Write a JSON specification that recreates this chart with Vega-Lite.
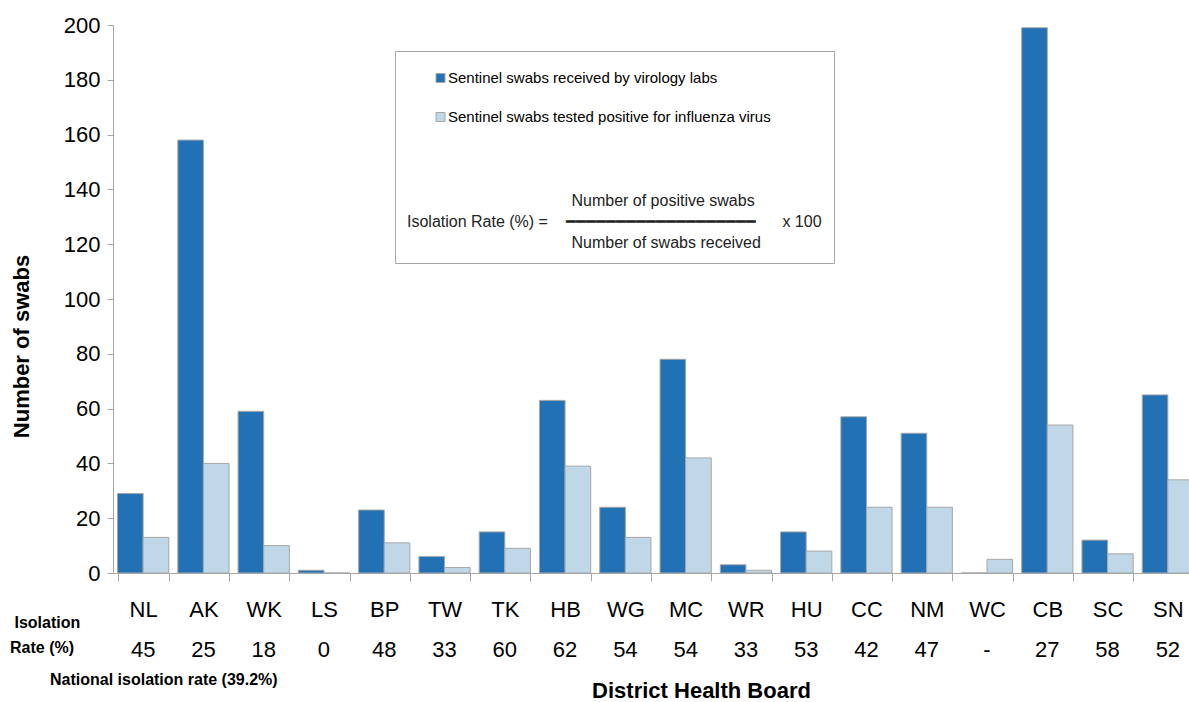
{
  "$schema": "https://vega.github.io/schema/vega-lite/v6.json",
  "width": 1076,
  "height": 548,
  "autosize": "none",
  "padding": {"left": 113, "top": 25, "right": 0, "bottom": 129},
  "background": "white",
  "config": {"view": {"stroke": null}, "font": "Liberation Sans"},
  "title": {
    "text": ["\u200b\u00a0Isolation", "Rate (%)"],
    "subtitle": "\u200b\u00a0\u00a0\u00a0\u00a0\u00a0\u00a0\u00a0\u00a0\u00a0National isolation rate (39.2%)",
    "orient": "bottom",
    "anchor": "start",
    "align": "left",
    "frame": "bounds",
    "fontSize": 16,
    "fontWeight": "bold",
    "color": "black",
    "lineHeight": 25,
    "subtitleFontSize": 16,
    "subtitleFontWeight": "bold",
    "subtitleColor": "black",
    "subtitlePadding": 16,
    "offset": -86
  },
  "datasets": {
    "swabs": [
      {"dhb": "NL", "series": "Sentinel swabs received by virology labs", "swabs": 29},
      {"dhb": "NL", "series": "Sentinel swabs tested positive for influenza virus", "swabs": 13},
      {"dhb": "AK", "series": "Sentinel swabs received by virology labs", "swabs": 158},
      {"dhb": "AK", "series": "Sentinel swabs tested positive for influenza virus", "swabs": 40},
      {"dhb": "WK", "series": "Sentinel swabs received by virology labs", "swabs": 59},
      {"dhb": "WK", "series": "Sentinel swabs tested positive for influenza virus", "swabs": 10},
      {"dhb": "LS", "series": "Sentinel swabs received by virology labs", "swabs": 1},
      {"dhb": "LS", "series": "Sentinel swabs tested positive for influenza virus", "swabs": 0},
      {"dhb": "BP", "series": "Sentinel swabs received by virology labs", "swabs": 23},
      {"dhb": "BP", "series": "Sentinel swabs tested positive for influenza virus", "swabs": 11},
      {"dhb": "TW", "series": "Sentinel swabs received by virology labs", "swabs": 6},
      {"dhb": "TW", "series": "Sentinel swabs tested positive for influenza virus", "swabs": 2},
      {"dhb": "TK", "series": "Sentinel swabs received by virology labs", "swabs": 15},
      {"dhb": "TK", "series": "Sentinel swabs tested positive for influenza virus", "swabs": 9},
      {"dhb": "HB", "series": "Sentinel swabs received by virology labs", "swabs": 63},
      {"dhb": "HB", "series": "Sentinel swabs tested positive for influenza virus", "swabs": 39},
      {"dhb": "WG", "series": "Sentinel swabs received by virology labs", "swabs": 24},
      {"dhb": "WG", "series": "Sentinel swabs tested positive for influenza virus", "swabs": 13},
      {"dhb": "MC", "series": "Sentinel swabs received by virology labs", "swabs": 78},
      {"dhb": "MC", "series": "Sentinel swabs tested positive for influenza virus", "swabs": 42},
      {"dhb": "WR", "series": "Sentinel swabs received by virology labs", "swabs": 3},
      {"dhb": "WR", "series": "Sentinel swabs tested positive for influenza virus", "swabs": 1},
      {"dhb": "HU", "series": "Sentinel swabs received by virology labs", "swabs": 15},
      {"dhb": "HU", "series": "Sentinel swabs tested positive for influenza virus", "swabs": 8},
      {"dhb": "CC", "series": "Sentinel swabs received by virology labs", "swabs": 57},
      {"dhb": "CC", "series": "Sentinel swabs tested positive for influenza virus", "swabs": 24},
      {"dhb": "NM", "series": "Sentinel swabs received by virology labs", "swabs": 51},
      {"dhb": "NM", "series": "Sentinel swabs tested positive for influenza virus", "swabs": 24},
      {"dhb": "WC", "series": "Sentinel swabs received by virology labs", "swabs": 0},
      {"dhb": "WC", "series": "Sentinel swabs tested positive for influenza virus", "swabs": 5},
      {"dhb": "CB", "series": "Sentinel swabs received by virology labs", "swabs": 199},
      {"dhb": "CB", "series": "Sentinel swabs tested positive for influenza virus", "swabs": 54},
      {"dhb": "SC", "series": "Sentinel swabs received by virology labs", "swabs": 12},
      {"dhb": "SC", "series": "Sentinel swabs tested positive for influenza virus", "swabs": 7},
      {"dhb": "SN", "series": "Sentinel swabs received by virology labs", "swabs": 65},
      {"dhb": "SN", "series": "Sentinel swabs tested positive for influenza virus", "swabs": 34}
    ],
    "rates": [
      {"dhb": "NL", "rate": "45"},
      {"dhb": "AK", "rate": "25"},
      {"dhb": "WK", "rate": "18"},
      {"dhb": "LS", "rate": "0"},
      {"dhb": "BP", "rate": "48"},
      {"dhb": "TW", "rate": "33"},
      {"dhb": "TK", "rate": "60"},
      {"dhb": "HB", "rate": "62"},
      {"dhb": "WG", "rate": "54"},
      {"dhb": "MC", "rate": "54"},
      {"dhb": "WR", "rate": "33"},
      {"dhb": "HU", "rate": "53"},
      {"dhb": "CC", "rate": "42"},
      {"dhb": "NM", "rate": "47"},
      {"dhb": "WC", "rate": "-"},
      {"dhb": "CB", "rate": "27"},
      {"dhb": "SC", "rate": "58"},
      {"dhb": "SN", "rate": "52"}
    ]
  },
  "encoding": {
    "x": {
      "field": "dhb",
      "type": "nominal",
      "title": "District Health Board",
      "scale": {
        "domain": ["NL", "AK", "WK", "LS", "BP", "TW", "TK", "HB", "WG", "MC", "WR", "HU", "CC", "NM", "WC", "CB", "SC", "SN"],
        "range": [0, 1085],
        "paddingInner": 0.15,
        "paddingOuter": 0.075
      },
      "axis": {
        "title": "District Health Board",
        "titleFontSize": 22,
        "titleFontWeight": "bold",
        "titleColor": "black",
        "titleX": 588,
        "titleY": 117,
        "titleBaseline": "middle",
        "labelFontSize": 22,
        "labelColor": "black",
        "labelPadding": 18,
        "labelAngle": 0,
        "tickBand": "extent",
        "tickSize": 8,
        "tickColor": "#A6A6A6",
        "domainColor": "#A6A6A6",
        "grid": false
      }
    }
  },
  "layer": [
    {
      "data": {"name": "swabs"},
      "mark": {"type": "bar", "stroke": "#A6A6A6", "strokeWidth": 1},
      "encoding": {
        "xOffset": {
          "field": "series",
          "type": "nominal",
          "scale": {
            "domain": ["Sentinel swabs received by virology labs", "Sentinel swabs tested positive for influenza virus"],
            "paddingInner": 0,
            "paddingOuter": 0
          }
        },
        "y": {
          "field": "swabs",
          "type": "quantitative",
          "title": "Number of swabs",
          "scale": {"domain": [0, 200], "nice": false},
          "axis": {
            "title": "Number of swabs",
            "titleFontSize": 22,
            "titleFontWeight": "bold",
            "titleColor": "black",
            "titleX": -92,
            "titleY": 321,
            "titleAngle": -90,
            "titleBaseline": "middle",
            "titleAlign": "center",
            "values": [0, 20, 40, 60, 80, 100, 120, 140, 160, 180, 200],
            "labelFontSize": 22,
            "labelColor": "black",
            "labelPadding": 7,
            "tickSize": 6,
            "tickColor": "#A6A6A6",
            "domainColor": "#A6A6A6",
            "grid": false
          }
        },
        "color": {
          "field": "series",
          "type": "nominal",
          "scale": {
            "domain": ["Sentinel swabs received by virology labs", "Sentinel swabs tested positive for influenza virus"],
            "range": ["#2271B5", "#BFD7E7"]
          },
          "legend": {
            "orient": "none",
            "legendX": 282,
            "legendY": 26,
            "direction": "vertical",
            "title": [
              "\u200b\u00a0\u00a0\u00a0\u00a0\u00a0\u00a0\u00a0\u00a0\u00a0\u00a0\u00a0\u00a0\u00a0\u00a0\u00a0\u00a0\u00a0\u00a0\u00a0\u00a0\u00a0\u00a0\u00a0\u00a0\u00a0\u00a0\u00a0\u00a0\u00a0\u00a0\u00a0\u00a0\u00a0\u00a0\u00a0\u00a0\u00a0Number of positive swabs",
              "Isolation Rate (%) =\u00a0\u00a0\u00a0\u00a0\u2501\u2501\u2501\u2501\u2501\u2501\u2501\u2501\u2501\u2501\u2501\u2501\u2501\u2501\u2501\u2501\u2501\u2501\u2501\u00a0\u00a0\u00a0\u00a0\u00a0\u00a0x 100",
              "\u200b\u00a0\u00a0\u00a0\u00a0\u00a0\u00a0\u00a0\u00a0\u00a0\u00a0\u00a0\u00a0\u00a0\u00a0\u00a0\u00a0\u00a0\u00a0\u00a0\u00a0\u00a0\u00a0\u00a0\u00a0\u00a0\u00a0\u00a0\u00a0\u00a0\u00a0\u00a0\u00a0\u00a0\u00a0\u00a0\u00a0\u00a0Number of swabs received"
            ],
            "titleOrient": "bottom",
            "titleAnchor": "start",
            "titleAlign": "left",
            "titleFontSize": 16,
            "titleFontWeight": "normal",
            "titleColor": "#222222",
            "titleLineHeight": 21,
            "titleLimit": 600,
            "titlePadding": 61,
            "padding": 12,
            "strokeColor": "#A6A6A6",
            "fillColor": "white",
            "labelFontSize": 15,
            "labelColor": "black",
            "labelLimit": 500,
            "symbolType": "square",
            "symbolSize": 81,
            "symbolStrokeColor": "#A6A6A6",
            "symbolStrokeWidth": 1,
            "symbolOffset": 26,
            "labelOffset": 0,
            "clipHeight": 30,
            "rowPadding": 9
          }
        }
      }
    },
    {
      "data": {"name": "rates"},
      "mark": {"type": "text", "fontSize": 22, "baseline": "middle", "align": "center", "color": "black"},
      "encoding": {
        "y": {"datum": -28, "type": "quantitative", "title": "Number of swabs"},
        "text": {"field": "rate", "type": "nominal"}
      }
    }
  ]
}
